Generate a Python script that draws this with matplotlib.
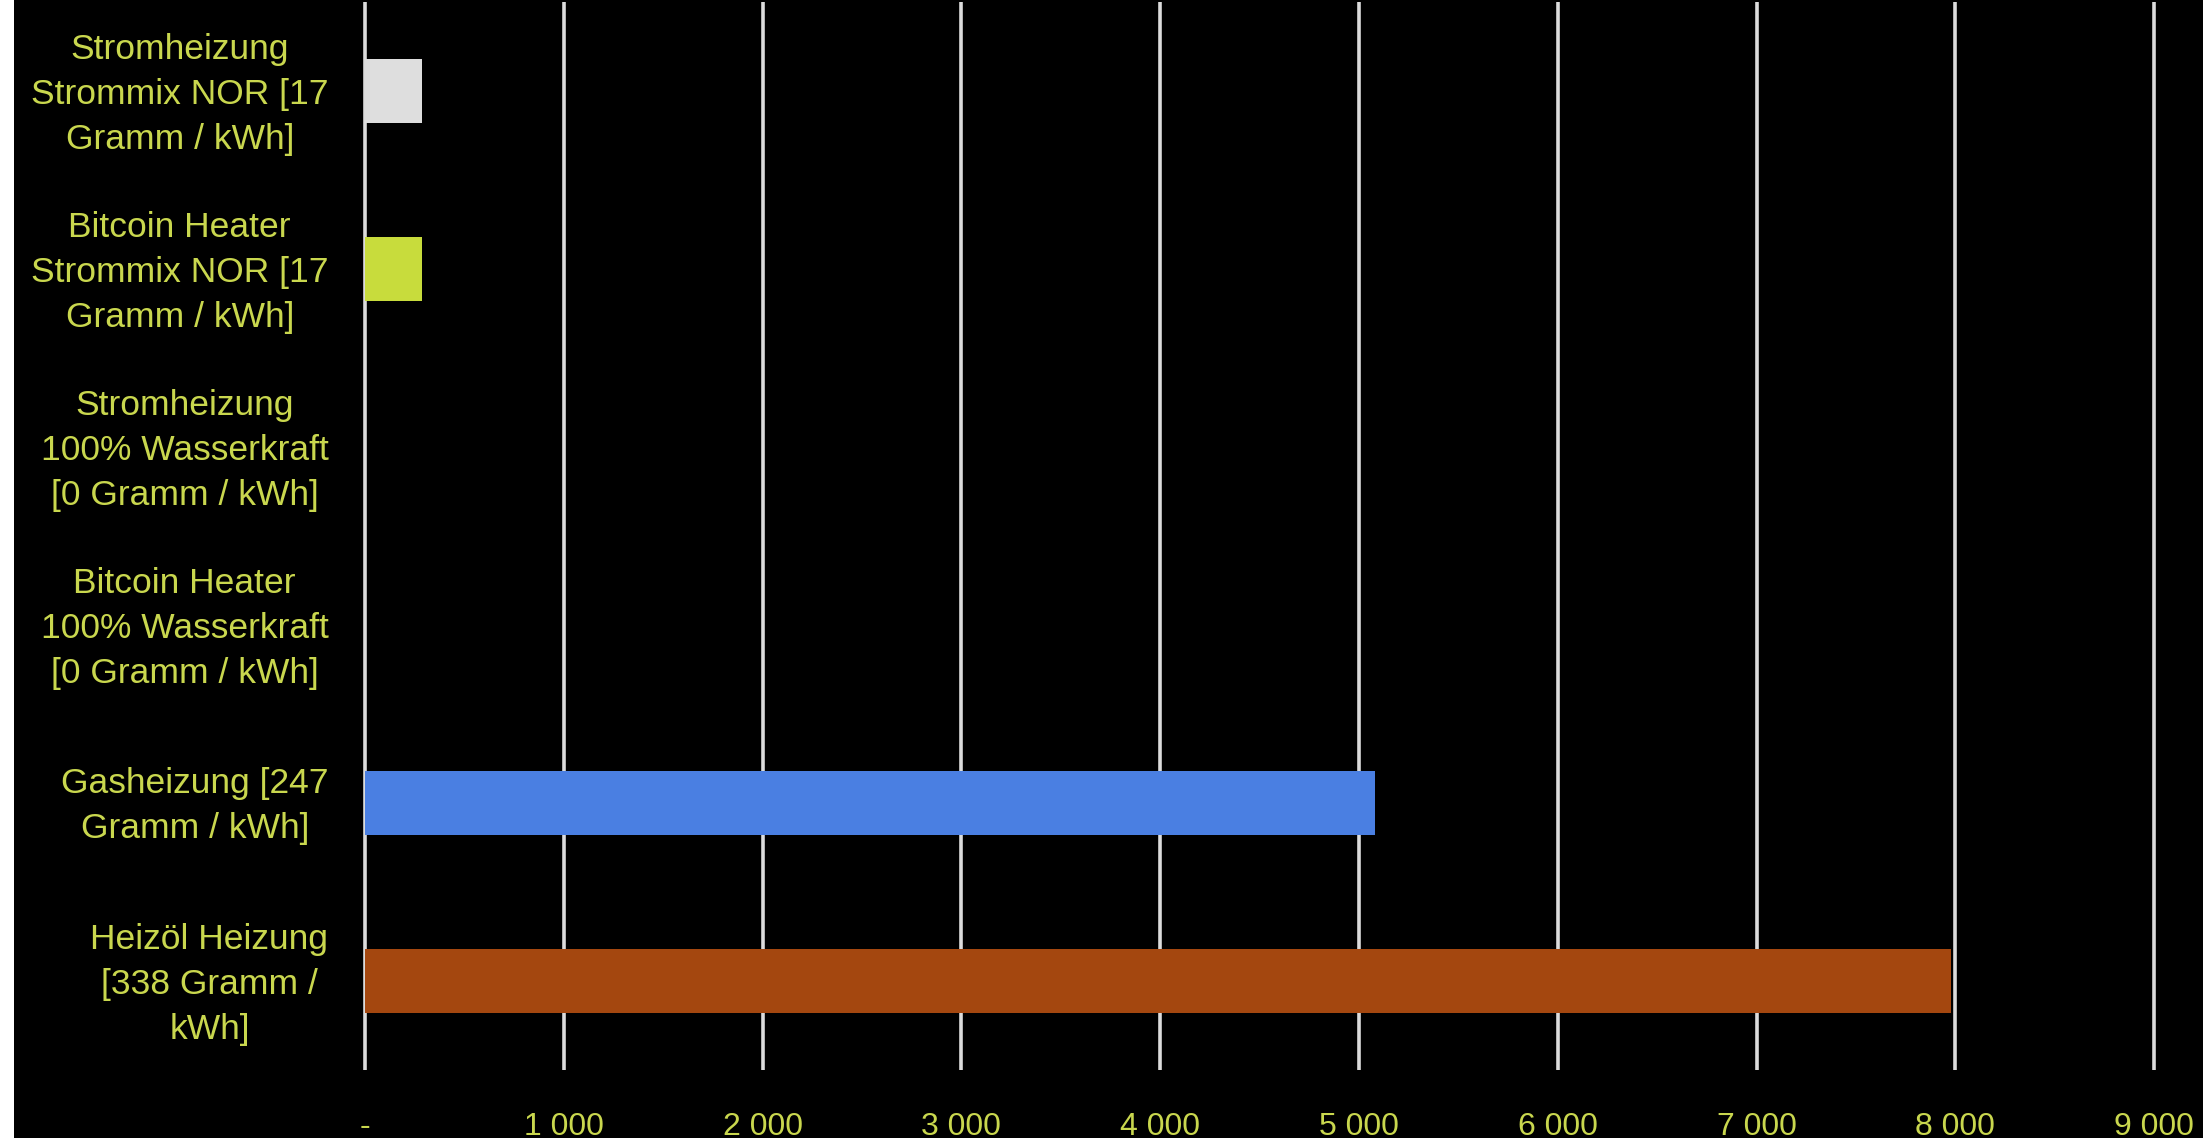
import matplotlib
matplotlib.use("Agg")
import matplotlib.pyplot as plt
from matplotlib.patches import Rectangle
from matplotlib.ticker import FuncFormatter
from matplotlib.transforms import ScaledTranslation

# CO2 per year (kg) for different heating types
labels = [
    "Stromheizung\nStrommix NOR [17\nGramm / kWh]",
    "Bitcoin Heater\nStrommix NOR [17\nGramm / kWh]",
    "Stromheizung\n100% Wasserkraft\n[0 Gramm / kWh]",
    "Bitcoin Heater\n100% Wasserkraft\n[0 Gramm / kWh]",
    "Gasheizung [247\nGramm / kWh]",
    "Heizöl Heizung\n[338 Gramm /\nkWh]",
]
values = [285, 285, 0, 0, 5080, 7980]
colors = ["#dedede", "#c8dc3c", "#dedede", "#c8dc3c", "#4a7fe2", "#a4470f"]
xticks = [0, 1000, 2000, 3000, 4000, 5000, 6000, 7000, 8000, 9000]

text_color = "#c9d74e"

fig = plt.figure(figsize=(22.03, 11.38), dpi=100, facecolor="black")
# white strip at the far left (spreadsheet edge)
fig.patches.append(Rectangle((0, 0), 14 / 2203, 1, transform=fig.transFigure,
                             facecolor="white", edgecolor="none"))

ax = fig.add_axes([359 / 2203, 1 - 1070 / 1138, (2174 - 359) / 2203, 1068 / 1138])
ax.set_facecolor("black")

y = range(len(labels))
ax.barh(y, values, height=0.355, color=colors, zorder=3)

ax.set_ylim(5.5, -0.5)
ax.set_xlim(-30, 9100)
ax.set_xticks(xticks)
ax.xaxis.set_major_formatter(FuncFormatter(
    lambda v, p: "-" if v == 0 else f"{int(v):,}".replace(",", " ")))
ax.grid(axis="x", color="#dcdcdc", linewidth=2.6, zorder=1)

ax.set_yticks(list(y))
ax.set_yticklabels(labels, fontsize=25.5, color=text_color, family="Liberation Sans",
                   multialignment="center", linespacing=1.46)
ax.tick_params(axis="y", length=0, pad=22)
ax.tick_params(axis="x", length=0, pad=30, labelsize=23, labelcolor=text_color)
for lab in ax.get_xticklabels():
    lab.set_family("Liberation Sans")

# labels sit a little above the bar centres in the original
shift = ScaledTranslation(0, 6 / 100, fig.dpi_scale_trans)
for lab in ax.get_yticklabels():
    lab.set_transform(lab.get_transform() + shift)

for s in ax.spines.values():
    s.set_visible(False)

fig.savefig("out.png", dpi=100, facecolor="black")
